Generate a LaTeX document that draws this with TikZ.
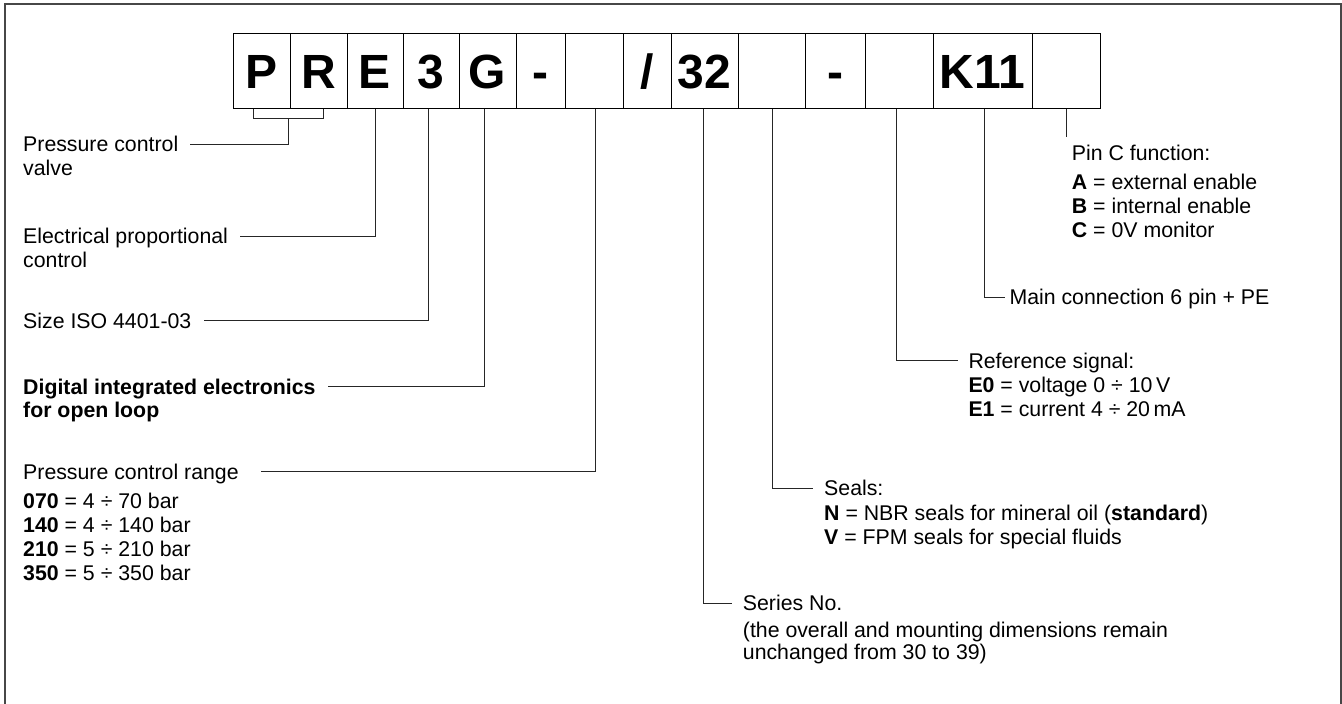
\documentclass[tikz,border=0pt]{standalone}
\usepackage{fontspec}
\setmainfont{Liberation Sans}
\usetikzlibrary{calc}
\begin{document}
\begin{tikzpicture}[x=1pt,y=-1pt,
  cell/.style={draw=black, line width=1pt, inner sep=0pt, minimum height=74.5pt,
    text height=35pt, text depth=0pt, font=\fontsize{48}{48}\selectfont\bfseries},
  lab/.style={anchor=west, inner sep=0pt, text height=15.2pt, text depth=0pt,
    font=\fontsize{21.3}{24}\selectfont},
  blab/.style={lab, font=\fontsize{21.3}{24}\selectfont\bfseries},
  conn/.style={draw=black!85, line width=1pt},
  frame/.style={draw=black!72, line width=2pt}]
\useasboundingbox (0,0) rectangle (1342,704);
\draw[frame] (5,704) -- (5,4) -- (1340.5,4) -- (1340.5,704);

% code boxes
\node[cell, minimum width=57pt] (b1)  at (261.5,70.75) {P};
\node[cell, minimum width=57pt] (b2)  at (318.5,70.75) {R};
\node[cell, minimum width=56pt] (b3)  at (375,70.75) {E};
\node[cell, minimum width=56pt] (b4)  at (431,70.75) {3};
\node[cell, minimum width=57pt] (b5)  at (487.5,70.75) {G};
\node[cell, minimum width=49pt] (b6)  at (540.5,70.75) {-};
\node[cell, minimum width=58pt] (b7)  at (594,70.75) {};
\node[cell, minimum width=48pt] (b8)  at (647,70.75) {/};
\node[cell, minimum width=67pt] (b9)  at (704.5,70.75) {32};
\node[cell, minimum width=67pt] (b10) at (771.5,70.75) {};
\node[cell, minimum width=60pt] (b11) at (835,70.75) {-};
\node[cell, minimum width=68pt] (b12) at (899,70.75) {};
\node[cell, minimum width=99pt] (b13) at (982.5,70.75) {K11};
\node[cell, minimum width=68pt] (b14) at (1066,70.75) {};

% left labels
\node[lab] (tPCV)  at (23,144.3) {Pressure control};
\node[lab] (tPCV2) at (23,167.7) {valve};
\node[lab] (tEPC)  at (23,236) {Electrical proportional};
\node[lab] (tEPC2) at (23,259.4) {control};
\node[lab] (tSize) at (23,320.7) {Size ISO 4401-03};
\node[blab] (tDig)  at (23,386.7) {Digital integrated electronics};
\node[blab] (tDig2) at (23,410) {for open loop};
\node[lab] (tRange) at (23,471.7) {Pressure control range};
\node[lab] (r1) at (23,500.7) {\textbf{070} = 4 ÷ 70 bar};
\node[lab] (r2) at (23,524.7) {\textbf{140} = 4 ÷ 140 bar};
\node[lab] (r3) at (23,548.7) {\textbf{210} = 5 ÷ 210 bar};
\node[lab] (r4) at (23,572.7) {\textbf{350} = 5 ÷ 350 bar};

% right labels
\node[lab] (tPin) at (1071.7,153.3) {Pin C function:};
\node[lab] (pA) at (1071.7,181.7) {\textbf{A} = external enable};
\node[lab] (pB) at (1071.7,206) {\textbf{B} = internal enable};
\node[lab] (pC) at (1071.7,230) {\textbf{C} = 0V monitor};
\node[lab] (tMain) at (1009.3,297) {Main connection 6 pin + PE};
\node[lab] (tRef) at (968.3,360.7) {Reference signal:};
\node[lab] (e0) at (968.3,385) {\textbf{E0} = voltage 0 ÷ 10\,V};
\node[lab] (e1) at (968.3,409) {\textbf{E1} = current 4 ÷ 20\,mA};
\node[lab] (tSeal) at (824,488.3) {Seals:};
\node[lab] (sN) at (824,513) {\textbf{N} = NBR seals for mineral oil (\textbf{standard})};
\node[lab] (sV) at (824,536.7) {\textbf{V} = FPM seals for special fluids};
\node[lab] (tSer) at (742.7,603.3) {Series No.};
\node[lab] (s1) at (742.7,630) {(the overall and mounting dimensions remain};
\node[lab] (s2) at (742.7,652) {unchanged from 30 to 39)};

% connectors
\coordinate (brk) at ($(b1.south)!0.5!(b2.south)+(-2,10)$);
\draw[conn] ([xshift=-8.5pt]b1.south) -- ++(0,10) -| ([xshift=4.5pt]b2.south);
\draw[conn] (brk) |- ($(tPCV.east)+(12,0)$);
\draw[conn] (b3.south) |- ($(tEPC.east)+(12,0)$);
\draw[conn] ([xshift=-2.3pt]b4.south) |- ($(tSize.east)+(12,0)$);
\draw[conn] ([xshift=-3.4pt]b5.south) |- ($(tDig.east)+(12,0)$);
\draw[conn] ([xshift=1pt]b7.south) |- ($(tRange.east)+(22,0)$);
\draw[conn] ([xshift=-1.2pt]b9.south) |- ($(tSer.west)+(-10.7,0)$);
\draw[conn] ([xshift=0.8pt]b10.south) |- ($(tSeal.west)+(-11,0)$);
\draw[conn] ([xshift=-2.3pt]b12.south) |- ($(tRef.west)+(-10.3,0)$);
\draw[conn] ([xshift=1.8pt]b13.south) |- ($(tMain.west)+(-4.3,0)$);
\draw[conn] (b14.south) -- ([yshift=9pt]b14.south |- tPin.north);
\end{tikzpicture}
\end{document}
